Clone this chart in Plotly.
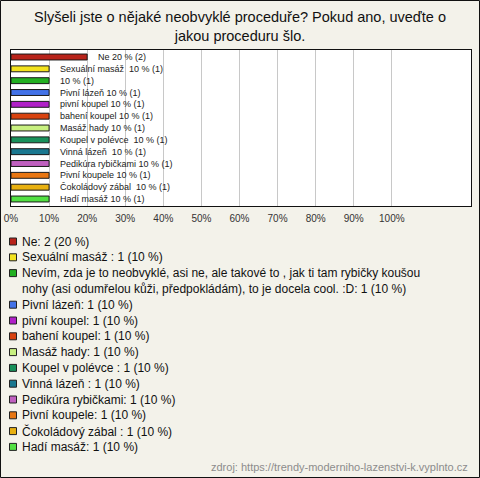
import plotly.graph_objects as go

# data
nazvy = [
    "Ne", "Sexuální masáž ",
    "Nevím, zda je to neobvyklé, asi ne, ale takové to , jak ti tam rybičky koušou<br>"
    "nohy (asi odumřelou kůži, předpokládám), to je docela cool. :D",
    "Pivní lázeň", "pivní koupel", "bahení koupel", "Masáž hady",
    "Koupel v polévce ", "Vinná lázeň ", "Pedikúra rybičkami", "Pivní koupele",
    "Čokoládový zábal ", "Hadí masáž",
]
popisky = [
    "Ne", "Sexuální masáž ", "", "Pivní lázeň", "pivní koupel", "bahení koupel",
    "Masáž hady", "Koupel v polévce ", "Vinná lázeň ", "Pedikúra rybičkami",
    "Pivní koupele", "Čokoládový zábal ", "Hadí masáž",
]
pocty = [2, 1, 1, 1, 1, 1, 1, 1, 1, 1, 1, 1, 1]
procenta = [20, 10, 10, 10, 10, 10, 10, 10, 10, 10, 10, 10, 10]
barvy = [
    "#b8231a", "#f2e21e", "#22b022", "#4272e8", "#b020c8", "#d8420f", "#c8f080",
    "#18905a", "#1a7890", "#c060c0", "#e87612", "#e8b010", "#52e042",
]
osa_ticky = [0, 10, 20, 30, 40, 50, 60, 70, 80, 90, 100]
titulek = "Slyšeli jste o nějaké neobvyklé proceduře? Pokud ano, uveďte o<br>jakou proceduru šlo."

W, H = 480, 478
L, R, T, B = 11, 9, 50, 272
PW, PH = W - L - R, H - T - B


def px_x(x):
    return (x - L) / PW


def px_y(y):
    return (H - B - y) / PH


kategorie = [str(i) for i in range(len(nazvy))]

fig = go.Figure()
fig.add_trace(go.Bar(
    x=procenta,
    y=kategorie,
    orientation="h",
    width=0.5,
    marker=dict(color=barvy, line=dict(color="#1a1a1a", width=1)),
    hoverinfo="skip",
))

font = "Liberation Sans, Arial, sans-serif"

# popisky u sloupcu
for k, p, n, c in zip(kategorie, procenta, popisky, pocty):
    fig.add_annotation(
        x=p, y=k, xref="x", yref="y",
        text=f"{n} {p} % ({c})".strip(),
        showarrow=False, xanchor="left", xshift=9,
        font=dict(family=font, size=9, color="#222222"),
    )

fig.add_annotation(
    x=px_x(240), y=px_y(26.5), xref="paper", yref="paper",
    text=titulek, showarrow=False, xanchor="center", yanchor="middle",
    align="center",
    font=dict(family=font, size=14.5, color="#111111"),
)

# legenda
radek = 0
for n, c, p, b in zip(nazvy, pocty, procenta, barvy):
    radky = n.count("<br>") + 1
    y0 = 241.5 + radek * 15.8
    stred = y0 + (radky - 1) * 15.6 / 2
    fig.add_annotation(
        x=px_x(20), y=px_y(stred), xref="paper", yref="paper",
        text=f"{n}: {c} ({p} %)", showarrow=False,
        xanchor="left", yanchor="middle", align="left",
        font=dict(family=font, size=12, color="#111111"),
    )
    fig.add_shape(
        type="rect", xref="paper", yref="paper",
        x0=px_x(9.5), x1=px_x(16.5), y0=px_y(y0 - 3.5), y1=px_y(y0 + 3.5),
        fillcolor=b, line=dict(color="#222222", width=1),
    )
    radek += radky

fig.add_annotation(
    x=px_x(470), y=px_y(466.5), xref="paper", yref="paper",
    text="zdroj: https://trendy-moderniho-lazenstvi-k.vyplnto.cz",
    showarrow=False, xanchor="right", yanchor="middle",
    font=dict(family=font, size=11, color="#8c8c8c"),
)

# ramecek kolem celeho obrazku
fig.add_shape(
    type="rect", xref="paper", yref="paper",
    x0=px_x(0.5), x1=px_x(W - 0.5), y0=px_y(H - 0.5), y1=px_y(0.5),
    line=dict(color="#111111", width=1), fillcolor="rgba(0,0,0,0)",
)

fig.update_xaxes(
    range=[0, 120.8], tickvals=osa_ticky, ticktext=[f"{v}%" for v in osa_ticky],
    showgrid=True, gridcolor="#c8c8c8", gridwidth=1, zeroline=False,
    showline=True, linecolor="#111111", linewidth=1, mirror=True,
    ticks="outside", ticklen=3, tickcolor="rgba(0,0,0,0)",
    tickfont=dict(family=font, size=10, color="#333333"),
    fixedrange=True,
)
fig.update_yaxes(
    autorange="reversed", showticklabels=False, showgrid=False,
    showline=True, linecolor="#111111", linewidth=1, mirror=True,
    fixedrange=True,
)
fig.update_layout(
    width=W, height=H,
    margin=dict(l=L, r=R, t=T, b=B, autoexpand=False),
    paper_bgcolor="#f3f2ea",
    plot_bgcolor="#ffffff",
    showlegend=False,
    bargap=0.5,
)

fig.write_html(
    "out.html",
    config={"displayModeBar": False},
    post_script="document.body.style.margin='0';",
)
